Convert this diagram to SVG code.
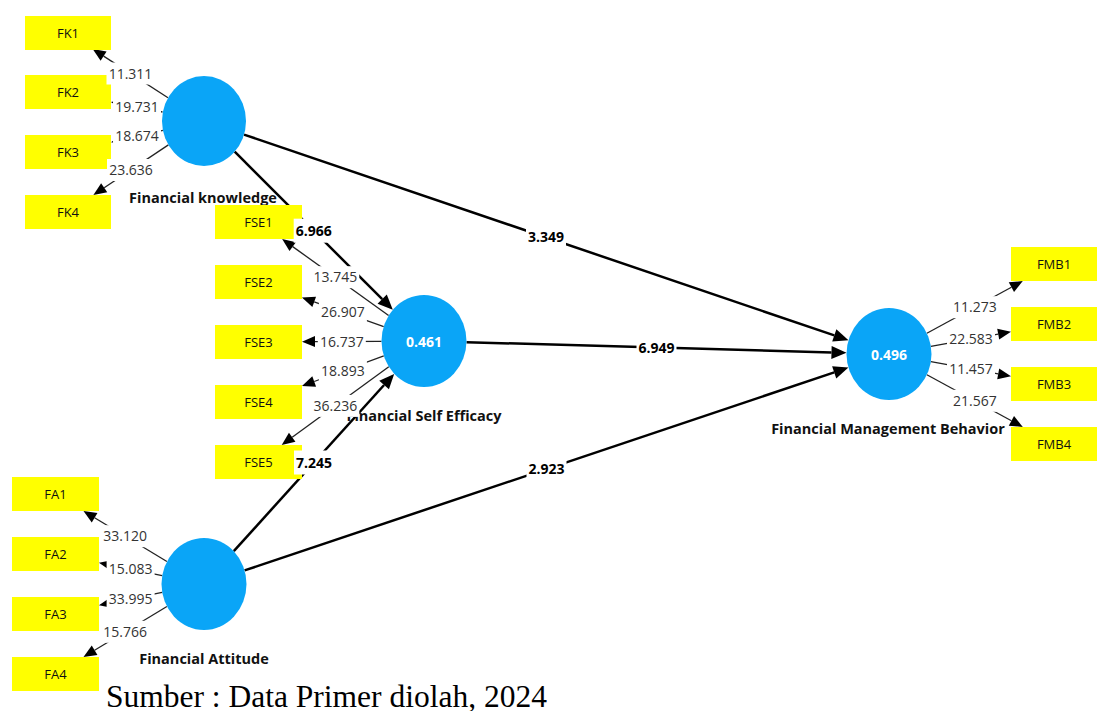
<svg xmlns="http://www.w3.org/2000/svg" width="1108" height="711" viewBox="0 0 1108 711">
<style>
.bg{fill:#ffffff}
.lv{fill:#0aa5f7}
.ind{fill:#ffff00}
.indt{font-family:"Open Sans","Noto Sans",sans-serif;font-size:13px;fill:#111;text-anchor:middle}
.name{font-family:"Open Sans","Noto Sans",sans-serif;font-size:14.5px;font-weight:bold;fill:#111;text-anchor:middle}
.val{font-family:"Open Sans","Noto Sans",sans-serif;font-size:14px;font-weight:bold;fill:#ffffff;text-anchor:middle}
.sp{stroke:#000;stroke-width:2.5;fill:none}
.mp{stroke:#222;stroke-width:1.3;fill:none}
.lb{fill:#ffffff}
.ml{font-family:"Open Sans","Noto Sans",sans-serif;font-size:14px;fill:#333;text-anchor:middle}
.sl{font-family:"Open Sans","Noto Sans",sans-serif;font-size:14px;font-weight:bold;fill:#000;text-anchor:middle}
.cap{font-family:"Liberation Serif","Times New Roman",serif;font-size:31.5px;fill:#000}
</style>
<defs>
<marker id="ah" markerUnits="userSpaceOnUse" markerWidth="16" markerHeight="14" refX="0" refY="7" orient="auto" overflow="visible">
<path d="M0,0.5 L15,7 L0,13.5 z" fill="#000"/>
</marker>
<marker id="am" markerUnits="userSpaceOnUse" markerWidth="14" markerHeight="12" refX="0" refY="6" orient="auto" overflow="visible">
<path d="M0,0.5 L13,6 L0,11.5 z" fill="#000"/>
</marker>
</defs>
<rect class="bg" x="0" y="0" width="1108" height="711"/>

<g id="connectors">
<!-- structural paths -->
<line class="sp" x1="244" y1="134.6" x2="834.3" y2="335.4" marker-end="url(#ah)"/>
<line class="sp" x1="234.7" y1="151.7" x2="382.2" y2="299.2" marker-end="url(#ah)"/>
<line class="sp" x1="466.5" y1="342.2" x2="831.5" y2="352.4" marker-end="url(#ah)"/>
<line class="sp" x1="233.8" y1="551.1" x2="384.1" y2="385" marker-end="url(#ah)"/>
<line class="sp" x1="244.6" y1="570.4" x2="834.2" y2="372.4" marker-end="url(#ah)"/>
<!-- measurement paths -->
<line class="mp" x1="168" y1="97.8" x2="103.6" y2="56.1" marker-end="url(#am)"/>
<line class="mp" x1="162.5" y1="112" x2="123.7" y2="104.5" marker-end="url(#am)"/>
<line class="mp" x1="162.9" y1="130.4" x2="123.7" y2="139.3" marker-end="url(#am)"/>
<line class="mp" x1="168.4" y1="144.9" x2="104.2" y2="187.8" marker-end="url(#am)"/>
<line class="mp" x1="388.6" y1="315.5" x2="292.7" y2="246.6" marker-end="url(#am)"/>
<line class="mp" x1="383.7" y1="326.6" x2="314.2" y2="301.9" marker-end="url(#am)"/>
<line class="mp" x1="381.5" y1="341.3" x2="315" y2="341.6" marker-end="url(#am)"/>
<line class="mp" x1="383.8" y1="355.8" x2="314.2" y2="381.5" marker-end="url(#am)"/>
<line class="mp" x1="388.8" y1="366.7" x2="292.2" y2="437.3" marker-end="url(#am)"/>
<line class="mp" x1="166.9" y1="561.5" x2="94.6" y2="517.7" marker-end="url(#am)"/>
<line class="mp" x1="162.2" y1="575.6" x2="111.7" y2="565.4" marker-end="url(#am)"/>
<line class="mp" x1="162.2" y1="592.4" x2="111.7" y2="602.6" marker-end="url(#am)"/>
<line class="mp" x1="166.9" y1="606.5" x2="94.6" y2="650.3" marker-end="url(#am)"/>
<line class="mp" x1="926.9" y1="333.3" x2="1011.4" y2="287.2" marker-end="url(#am)"/>
<line class="mp" x1="930.9" y1="346.4" x2="998.2" y2="334.1" marker-end="url(#am)"/>
<line class="mp" x1="930.9" y1="361.6" x2="998.2" y2="373.9" marker-end="url(#am)"/>
<line class="mp" x1="926.9" y1="374.7" x2="1011.4" y2="420.8" marker-end="url(#am)"/>
</g>

<g id="FK">
<ellipse class="lv" cx="204" cy="121" rx="42" ry="45"/>
<text class="name" x="203" y="203">Financial knowledge</text>
</g>
<g id="FSE">
<ellipse class="lv" cx="424" cy="341" rx="42.5" ry="46"/>
<text class="val" x="424" y="347">0.461</text>
<text class="name" x="424" y="421">Financial Self Efficacy</text>
</g>
<g id="FA">
<ellipse class="lv" cx="204" cy="584" rx="42.5" ry="46"/>
<text class="name" x="204" y="664">Financial Attitude</text>
</g>
<g id="FMB">
<ellipse class="lv" cx="889" cy="354" rx="42.5" ry="46"/>
<text class="val" x="889" y="360">0.496</text>
<text class="name" x="888" y="434">Financial Management Behavior</text>
</g>

<g id="FK1"><rect class="ind" x="25" y="16" width="86" height="34"/><text class="indt" x="68" y="37.5">FK1</text></g>
<g id="FK2"><rect class="ind" x="25" y="75" width="86" height="34"/><text class="indt" x="68" y="96.5">FK2</text></g>
<g id="FK3"><rect class="ind" x="25" y="135" width="86" height="34"/><text class="indt" x="68" y="156.5">FK3</text></g>
<g id="FK4"><rect class="ind" x="25" y="195" width="86" height="34"/><text class="indt" x="68" y="216.5">FK4</text></g>

<g id="FSE1"><rect class="ind" x="215" y="205" width="87" height="34"/><text class="indt" x="258.5" y="226.5">FSE1</text></g>
<g id="FSE2"><rect class="ind" x="215" y="265" width="87" height="34"/><text class="indt" x="258.5" y="286.5">FSE2</text></g>
<g id="FSE3"><rect class="ind" x="215" y="325" width="87" height="34"/><text class="indt" x="258.5" y="346.5">FSE3</text></g>
<g id="FSE4"><rect class="ind" x="215" y="385" width="87" height="34"/><text class="indt" x="258.5" y="406.5">FSE4</text></g>
<g id="FSE5"><rect class="ind" x="215" y="445" width="87" height="34"/><text class="indt" x="258.5" y="466.5">FSE5</text></g>

<g id="FA1"><rect class="ind" x="12" y="477" width="87" height="34"/><text class="indt" x="55.5" y="498.5">FA1</text></g>
<g id="FA2"><rect class="ind" x="12" y="537" width="87" height="34"/><text class="indt" x="55.5" y="558.5">FA2</text></g>
<g id="FA3"><rect class="ind" x="12" y="597" width="87" height="34"/><text class="indt" x="55.5" y="618.5">FA3</text></g>
<g id="FA4"><rect class="ind" x="12" y="657" width="87" height="34"/><text class="indt" x="55.5" y="678.5">FA4</text></g>

<g id="FMB1"><rect class="ind" x="1011" y="247" width="86" height="34"/><text class="indt" x="1054" y="268.5">FMB1</text></g>
<g id="FMB2"><rect class="ind" x="1011" y="307" width="86" height="34"/><text class="indt" x="1054" y="328.5">FMB2</text></g>
<g id="FMB3"><rect class="ind" x="1011" y="367" width="86" height="34"/><text class="indt" x="1054" y="388.5">FMB3</text></g>
<g id="FMB4"><rect class="ind" x="1011" y="427" width="86" height="34"/><text class="indt" x="1054" y="448.5">FMB4</text></g>

<g id="connector-labels">
<rect class="lb" x="106.5" y="62.5" width="48" height="22"/><text class="ml" x="130.5" y="78.5">11.311</text>
<rect class="lb" x="113" y="95.5" width="48" height="22"/><text class="ml" x="137" y="111.5">19.731</text>
<rect class="lb" x="113" y="125.3" width="48" height="22"/><text class="ml" x="137" y="141.3">18.674</text>
<rect class="lb" x="107" y="159" width="48" height="22"/><text class="ml" x="131" y="175">23.636</text>

<rect class="lb" x="311.3" y="266.2" width="48" height="22"/><text class="ml" x="335.3" y="282.2">13.745</text>
<rect class="lb" x="318.9" y="301" width="48" height="22"/><text class="ml" x="342.9" y="317">26.907</text>
<rect class="lb" x="317.8" y="330.5" width="48" height="22"/><text class="ml" x="341.8" y="346.5">16.737</text>
<rect class="lb" x="318.9" y="359.9" width="48" height="22"/><text class="ml" x="342.9" y="375.9">18.893</text>
<rect class="lb" x="311.3" y="394.9" width="48" height="22"/><text class="ml" x="335.3" y="410.9">36.236</text>

<rect class="lb" x="101.2" y="525.2" width="48" height="22"/><text class="ml" x="125.2" y="541.2">33.120</text>
<rect class="lb" x="106.6" y="558.2" width="48" height="22"/><text class="ml" x="130.6" y="574.2">15.083</text>
<rect class="lb" x="106.6" y="587.8" width="48" height="22"/><text class="ml" x="130.6" y="603.8">33.995</text>
<rect class="lb" x="101.2" y="620.8" width="48" height="22"/><text class="ml" x="125.2" y="636.8">15.766</text>

<rect class="lb" x="950.9" y="296.2" width="48" height="22"/><text class="ml" x="974.9" y="312.2">11.273</text>
<rect class="lb" x="947" y="328.1" width="48" height="22"/><text class="ml" x="971" y="344.1">22.583</text>
<rect class="lb" x="947" y="357.9" width="48" height="22"/><text class="ml" x="971" y="373.9">11.457</text>
<rect class="lb" x="950.9" y="389.8" width="48" height="22"/><text class="ml" x="974.9" y="405.8">21.567</text>

<rect class="lb" x="526" y="225.4" width="40" height="24"/><text class="sl" x="546" y="242.4">3.349</text>
<rect class="lb" x="293.7" y="218.7" width="40" height="24"/><text class="sl" x="313.7" y="235.7">6.966</text>
<rect class="lb" x="636.5" y="335.5" width="40" height="24"/><text class="sl" x="656.5" y="352.5">6.949</text>
<rect class="lb" x="294" y="450.5" width="40" height="24"/><text class="sl" x="314" y="467.5">7.245</text>
<rect class="lb" x="526.5" y="457" width="40" height="24"/><text class="sl" x="546.5" y="474">2.923</text>
</g>

<text class="cap" x="106" y="707">Sumber : Data Primer diolah, 2024</text>
</svg>
